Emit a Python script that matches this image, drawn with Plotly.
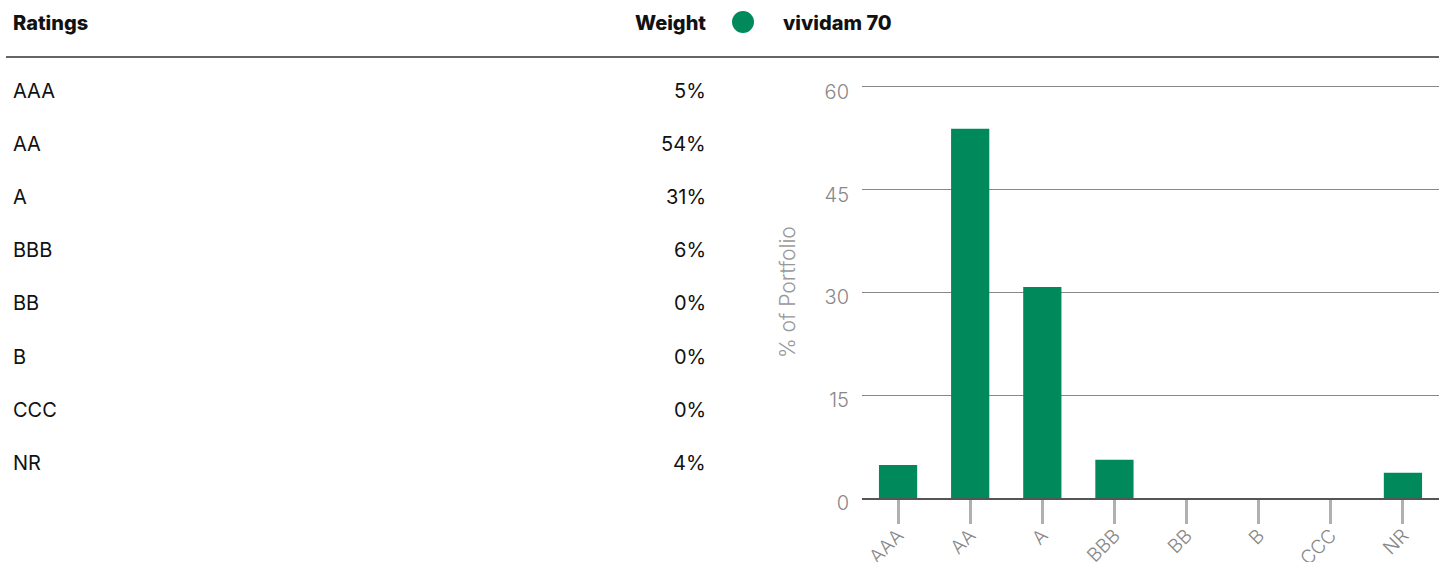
import plotly.graph_objects as go

ratings = ["AAA", "AA", "A", "BBB", "BB", "B", "CCC", "NR"]
weights = [4.8, 53.9, 30.8, 5.6, 0.0, 0.0, 0.0, 3.7]
y_ticks = [0, 15, 30, 45, 60]
series_name = "vividam 70"

W, H = 1439, 562
GREEN = "#008A5B"
FONT = "Inter"

def px(x):
    return x / W

def py(y):
    return 1 - y / H

fig = go.Figure()
fig.add_trace(go.Bar(x=ratings, y=weights, marker=dict(color=GREEN, line=dict(width=0)),
                     name=series_name, showlegend=False))

annotations = []
shapes = []

head_font = dict(family=FONT, size=20, color="#111", weight=800)
row_font = dict(family=FONT, size=20, color="#111")

# header
annotations.append(dict(x=px(11), y=py(23), xref="paper", yref="paper", text="Ratings",
                        xanchor="left", yanchor="middle", showarrow=False, font=head_font))
annotations.append(dict(x=px(708), y=py(23), xref="paper", yref="paper", text="Weight",
                        xanchor="right", yanchor="middle", showarrow=False, font=head_font))
annotations.append(dict(x=px(781), y=py(23), xref="paper", yref="paper", text=series_name,
                        xanchor="left", yanchor="middle", showarrow=False, font=head_font))
shapes.append(dict(type="circle", xref="paper", yref="paper",
                   x0=px(732), x1=px(754), y0=py(33), y1=py(11),
                   fillcolor=GREEN, line=dict(width=0)))
shapes.append(dict(type="line", xref="paper", yref="paper",
                   x0=px(6), x1=1, y0=py(57), y1=py(57),
                   line=dict(color="#333", width=1.3)))

# table rows
for i, (r, w) in enumerate(zip(ratings, weights)):
    yy = 91 + i * 53.1
    annotations.append(dict(x=px(11), y=py(yy), xref="paper", yref="paper", text=r,
                            xanchor="left", yanchor="middle", showarrow=False, font=row_font))
    annotations.append(dict(x=px(708), y=py(yy), xref="paper", yref="paper", text=f"{round(w)}%",
                            xanchor="right", yanchor="middle", showarrow=False, font=row_font))

# y axis title
annotations.append(dict(x=px(787), y=py(292), xref="paper", yref="paper", text="% of Portfolio",
                        textangle=-90, xanchor="center", yanchor="middle", showarrow=False,
                        font=dict(family=FONT, size=21, color="#999", weight=300)))

fig.update_layout(
    width=W, height=H,
    margin=dict(l=0, r=0, t=0, b=0, autoexpand=False),
    paper_bgcolor="white", plot_bgcolor="white",
    bargap=0.47,
    annotations=annotations,
    shapes=shapes,
    xaxis=dict(domain=[px(862), 1], showgrid=False, ticks="outside", ticklen=24, tickwidth=2.5,
               tickcolor="#b0b0b0", tickangle=-45,
               tickfont=dict(family=FONT, size=19, color="#888", weight=300),
               ticklabelstandoff=-7,
               showline=True, linecolor="#555", linewidth=2, fixedrange=True, automargin=False),
    yaxis=dict(domain=[py(498), py(85.6)], range=[0, 60.2], tickvals=y_ticks,
               showgrid=True, gridcolor="#888", gridwidth=1,
               zeroline=False, showline=False, automargin=False,
               tickfont=dict(family=FONT, size=20, color="#888", weight=300),
               ticklabelstandoff=12, ticklabelshift=5),
    font=dict(family=FONT),
)

fig.write_html("out.html", config={"displayModeBar": False},
               post_script="document.body.style.margin='0';document.body.style.overflow='hidden';")
